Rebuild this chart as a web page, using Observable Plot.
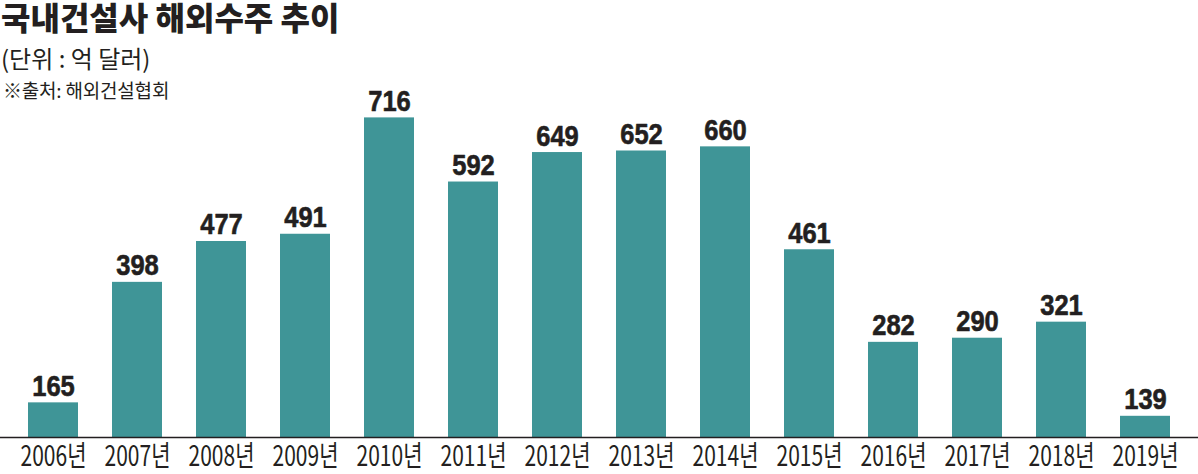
<!DOCTYPE html>
<html>
<head>
<meta charset="utf-8">
<script src="https://cdn.jsdelivr.net/npm/d3@7"></script>
<script src="https://cdn.jsdelivr.net/npm/@observablehq/plot@0.6"></script>
<style>
  body { margin: 0; background: #fff; }
  #wrap { position: relative; width: 1198px; height: 474px; overflow: hidden; }
  .hdr { position: absolute; left: 1px; white-space: nowrap; color: #231f20; font-family: "Noto Sans CJK KR", sans-serif; line-height: 1; z-index: 2; }
  #title { top: 0px; font-size: 32px; font-weight: 900; letter-spacing: 0px; }
  #subtitle { top: 46px; font-size: 24px; font-weight: 400; letter-spacing: 0px; }
  #source { top: 80px; left: 3px; font-size: 19px; font-weight: 400; letter-spacing: -0.2px; }
</style>
</head>
<body>
<div id="wrap">
  <div id="chart"></div>
  <div class="hdr" id="title">국내건설사 해외수주 추이</div>
  <div class="hdr" id="subtitle">(단위 : 억 달러)</div>
  <div class="hdr" id="source">※출처: 해외건설협회</div>
</div>
<script>
const years = ["2006년","2007년","2008년","2009년","2010년","2011년","2012년","2013년","2014년","2015년","2016년","2017년","2018년","2019년"];
const values = [165, 398, 477, 491, 716, 592, 649, 652, 660, 461, 282, 290, 321, 139];

const data = years.map((year, i) => ({year, value: values[i]}));

const chart = Plot.plot({
  width: 1198,
  height: 474,
  marginTop: 0,
  marginBottom: 37,
  marginLeft: 0,
  marginRight: 0,
  style: {background: "transparent", color: "#231f20"},
  x: {domain: years, paddingInner: 0.4, paddingOuter: 0.3, label: null},
  y: {domain: [98, 943], clamp: true, axis: null},
  marks: [
    Plot.barY(data, {x: "year", y: "value", fill: "#3f9597"}),
    Plot.ruleY([0], {stroke: "#231f20", strokeWidth: 1.5}),
    Plot.text(data, {
      x: "year", y: "value", text: d => String(d.value),
      dy: -7, lineAnchor: "bottom", fontSize: 29, fontWeight: "bold",
      fontFamily: "Liberation Sans, Arial, sans-serif", fill: "#231f20",
      stroke: "#231f20", strokeWidth: 0.6
    }),
    Plot.axisX({
      tickSize: 0, tickPadding: 9, fontSize: 28,
      fontFamily: "Liberation Sans Narrow, Noto Sans CJK KR, sans-serif",
      fill: "#231f20", label: null
    })
  ]
});

function squeeze(t, s) {
  const tr = t.getAttribute("transform");
  if (tr) {
    t.setAttribute("transform", tr + ` scale(${s},1)`);
  } else {
    const x = +t.getAttribute("x") || 0;
    t.setAttribute("transform", `translate(${x},0) scale(${s},1) translate(${-x},0)`);
  }
}
chart.querySelectorAll('g[aria-label="x-axis tick label"] text').forEach(t => squeeze(t, 0.75));
chart.querySelectorAll('g[aria-label="text"] text').forEach(t => squeeze(t, 0.88));

document.getElementById("chart").appendChild(chart);
</script>
</body>
</html>
